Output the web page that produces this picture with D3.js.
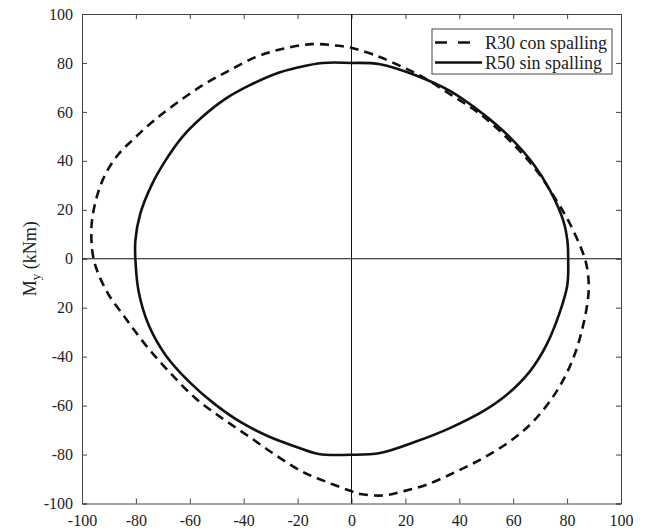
<!DOCTYPE html>
<html>
<head>
<meta charset="utf-8">
<script src="https://cdn.jsdelivr.net/npm/d3@7"></script>
<style>
  body { margin: 0; background: #fff; }
  svg, svg text { font-family: "Liberation Serif", "Times New Roman", Times, "DejaVu Serif", serif !important; }
</style>
</head>
<body>
<svg id="chart"></svg>
<script>
// series values (Mx, My in kNm)
const r30X = [-0.6, 9.4, 19.2, 26.6, 36.5, 47.7, 58.8, 68.7, 76.1, 81.1, 86.6, 87.9, 87.9, 86, 82.3, 76.1, 67.5, 58.8, 48.9, 39, 27.9, 19.2, 11.8, 3.2, -1, -9.7, -18.4, -28.3, -38.1, -48.1, -58, -67.8, -76.5, -83.9, -90.1, -93.8, -95.7, -96.5, -96.3, -94.4, -91.3, -86.4, -80.2, -73.4, -65.4, -55.5, -45.6, -35.7, -25.8, -14.7, -4.8, -0.6];
const r30Y = [86.4, 82.9, 78.2, 74.1, 67.3, 59.1, 48.2, 36, 23.7, 14.2, 0, -7.9, -14.7, -27, -40.6, -54.2, -66.4, -74.6, -81.4, -86.9, -92.3, -95, -96.7, -96.1, -94.6, -91, -86.9, -80.1, -72.6, -65.1, -56.9, -46, -35.1, -24.2, -14.7, -6.5, 0, 7.4, 15.5, 25.7, 34.6, 42.8, 49.6, 56.4, 63.2, 70.7, 76.8, 82.3, 85.7, 87.7, 87, 86.4];

const r50X = [0.2, 10.6, 24.2, 36.5, 48.9, 58.8, 67.5, 73.7, 78.6, 80.1, 80.4, 80.1, 77.4, 72.4, 66.2, 57.6, 48.9, 36.5, 24.2, 10.6, -0.6, -12.2, -20.9, -30.7, -40.6, -50.5, -60.4, -69.1, -75.3, -79, -80.2, -80.2, -78.4, -74, -69.1, -62.9, -55.5, -46.8, -38.1, -28.3, -19.6, -10.9, 0.2];
const r50Y = [80, 79.5, 74.8, 68.6, 59.1, 49.6, 38.7, 27.8, 15.5, 7.4, 0, -10.6, -21.5, -35.1, -46, -55.6, -62.3, -69.2, -74.6, -79.4, -80.1, -79.8, -76.7, -72.6, -67.1, -59.6, -50.1, -39.2, -27, -13.3, 0, 7.4, 18.3, 30.5, 40, 49.6, 57.8, 65.3, 70.7, 75.5, 78.2, 80, 80];

const seriesNames = ["R30 con spalling", "R50 sin spalling"];

// ticks and their labels (the picture prints "20" at -20)
const xTicks = [-100, -80, -60, -40, -20, 0, 20, 40, 60, 80, 100];
const xTickLabels = ["-100", "-80", "-60", "-40", "-20", "0", "20", "40", "60", "80", "100"];
const yTicks = [-100, -80, -60, -40, -20, 0, 20, 40, 60, 80, 100];
const yTickLabels = ["-100", "-80", "-60", "-40", "20", "0", "20", "40", "60", "80", "100"];

const width = 649;
const height = 530;
const margin = { top: 14, right: 28, bottom: 26.5, left: 82 };
const serif = "'Liberation Serif', 'Times New Roman', Times, 'DejaVu Serif', serif";

const svg = d3.select("#chart").attr("width", width).attr("height", height);

const x = d3.scaleLinear().domain([-100, 100]).range([margin.left, width - margin.right]);
const y = d3.scaleLinear().domain([-100, 100]).range([height - margin.bottom, margin.top]);

const fmtX = (d) => xTickLabels[xTicks.indexOf(d)];
const fmtY = (d) => yTickLabels[yTicks.indexOf(d)];

// axes, MATLAB style: inward ticks on every side
const axisColor = "#444";
const axBottom = svg.append("g")
  .attr("transform", `translate(0,${y(-100)})`)
  .call(d3.axisBottom(x).tickValues(xTicks).tickFormat(fmtX).tickSize(-5).tickPadding(11));
const axLeft = svg.append("g")
  .attr("transform", `translate(${x(-100)},0)`)
  .call(d3.axisLeft(y).tickValues(yTicks).tickFormat(fmtY).tickSize(-5).tickPadding(9));
const axTop = svg.append("g")
  .attr("transform", `translate(0,${y(100)})`)
  .call(d3.axisTop(x).tickValues(xTicks).tickFormat("").tickSize(-5));
const axRight = svg.append("g")
  .attr("transform", `translate(${x(100)},0)`)
  .call(d3.axisRight(y).tickValues(yTicks).tickFormat("").tickSize(-5));

[axBottom, axLeft, axTop, axRight].forEach((g) => {
  g.attr("font-family", null).attr("font-size", null);
  g.select(".domain").attr("stroke", axisColor);
  g.selectAll(".tick line").attr("stroke", axisColor);
  g.selectAll("text")
    .attr("fill", "#222")
    .style("font-family", serif)
    .style("font-size", "16px");
});

// cross through the origin
svg.append("line")
  .attr("x1", x(0)).attr("x2", x(0))
  .attr("y1", y(100)).attr("y2", y(-100))
  .attr("stroke", "#111").attr("stroke-width", 1);
svg.append("line")
  .attr("x1", x(-100)).attr("x2", x(100))
  .attr("y1", y(0)).attr("y2", y(0))
  .attr("stroke", "#111").attr("stroke-width", 1);

// curves
const line = d3.line()
  .x((d) => x(d[0]))
  .y((d) => y(d[1]))
  .curve(d3.curveCatmullRom.alpha(0.5));
const r30 = r30X.map((v, i) => [v, r30Y[i]]);
const r50 = r50X.map((v, i) => [v, r50Y[i]]);

svg.append("path")
  .datum(r30)
  .attr("d", line)
  .attr("fill", "none")
  .attr("stroke", "#111")
  .attr("stroke-width", 2.6)
  .attr("stroke-dasharray", "9,6");

svg.append("path")
  .datum(r50)
  .attr("d", line)
  .attr("fill", "none")
  .attr("stroke", "#111")
  .attr("stroke-width", 2.6);

// y label
const yLabel = svg.append("text")
  .attr("transform", `translate(36,${y(0)}) rotate(-90)`)
  .attr("text-anchor", "middle")
  .style("font-family", serif)
  .style("font-size", "18px")
  .attr("fill", "#222");
yLabel.append("tspan").text("M");
yLabel.append("tspan").attr("dy", 4).style("font-size", "13px").text("y");
yLabel.append("tspan").attr("dy", -4).text(" (kNm)");

// legend
const legend = svg.append("g").attr("transform", "translate(432,29)");
legend.append("rect")
  .attr("width", 180).attr("height", 45)
  .attr("fill", "#fff")
  .attr("stroke", axisColor).attr("stroke-width", 1);

seriesNames.forEach((name, i) => {
  const ly = 13.5 + i * 20;
  legend.append("line")
    .attr("x1", 3).attr("x2", i === 0 ? 40 : 50)
    .attr("y1", ly).attr("y2", ly)
    .attr("stroke", "#111").attr("stroke-width", 2.6)
    .attr("stroke-dasharray", i === 0 ? "12,11" : null);
  legend.append("text")
    .attr("x", 53).attr("y", ly + 6)
    .style("font-family", serif)
    .style("font-size", "18px")
    .attr("fill", "#222")
    .text(name);
});
</script>
</body>
</html>
